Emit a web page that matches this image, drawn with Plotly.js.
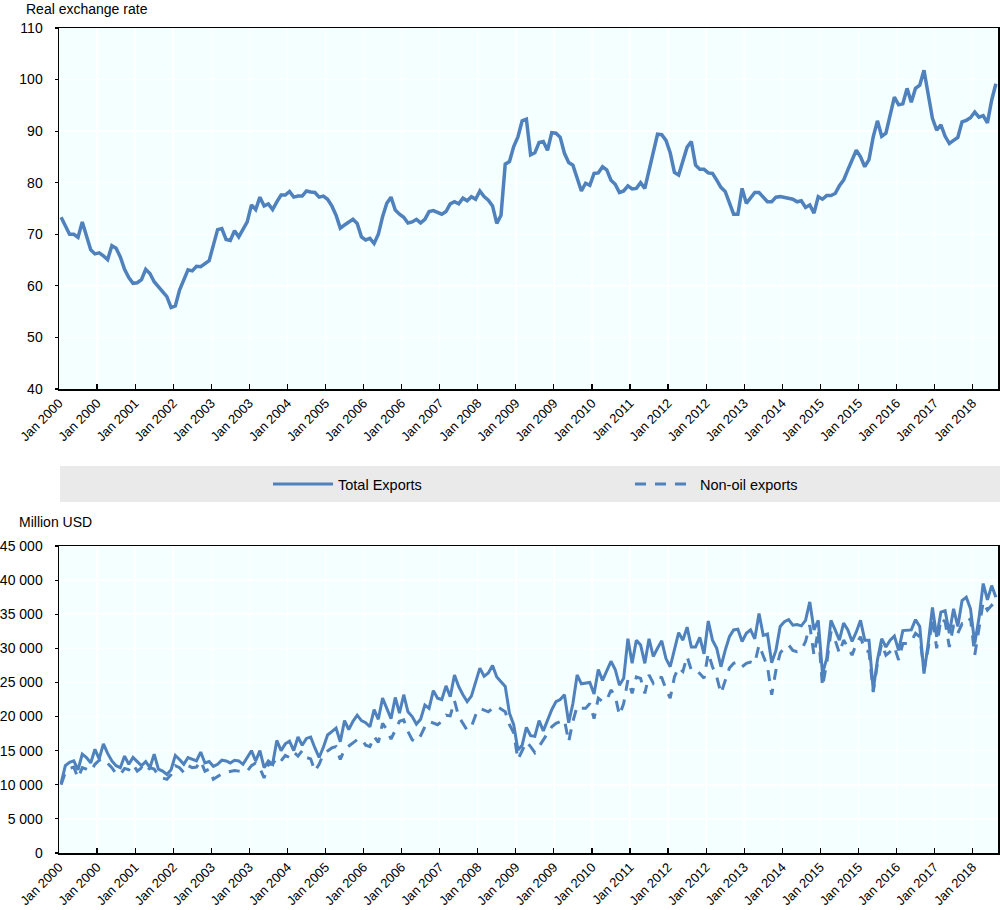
<!DOCTYPE html>
<html>
<head>
<meta charset="utf-8">
<script src="https://cdn.plot.ly/plotly-3.0.1.min.js"></script>
<style>html,body{margin:0;padding:0;background:#fff;}#chart{width:1000px;height:910px;}</style>
</head>
<body>
<div id="chart"></div>
<script>
// Tick labels as printed on both x axes (one every 9 months from Jan 2000)
const tickLabels = ["Jan 2000","Jan 2000","Jan 2001","Jan 2002","Jan 2003","Jan 2003","Jan 2004","Jan 2005","Jan 2006","Jan 2006","Jan 2007","Jan 2008","Jan 2009","Jan 2009","Jan 2010","Jan 2011","Jan 2012","Jan 2012","Jan 2013","Jan 2014","Jan 2015","Jan 2015","Jan 2016","Jan 2017","Jan 2018"];

// Real exchange rate, monthly Jan 2000 - Jun 2018
const realExchangeRate = [
73.3,71.5,70.0,70.0,69.4,72.4,69.5,67.0,66.2,66.4,65.8,65.1,
67.8,67.3,65.6,63.2,61.6,60.5,60.6,61.2,63.2,62.4,60.8,59.8,
58.9,57.9,55.8,56.1,59.2,61.2,63.1,62.9,63.8,63.7,64.4,64.9,
67.9,70.9,71.1,69.0,68.8,70.7,69.5,70.8,72.4,75.7,74.8,77.2,
75.5,75.9,74.8,76.3,77.6,77.6,78.3,77.2,77.4,77.4,78.4,78.2,
78.1,77.2,77.4,76.8,75.5,73.7,71.2,71.8,72.4,72.9,72.1,69.5,
68.9,69.2,68.2,70.0,73.4,76.0,77.2,74.7,73.9,73.3,72.2,72.4,
72.9,72.2,72.9,74.4,74.6,74.2,73.9,74.4,75.9,76.3,75.9,77.0,
76.5,77.3,76.8,78.4,77.3,76.6,75.5,72.1,73.7,83.6,84.1,87.0,
88.9,92.0,92.3,85.4,85.8,87.8,88.0,86.3,89.7,89.6,88.8,85.7,
83.9,83.4,80.8,78.4,79.9,79.5,81.8,81.9,83.1,82.5,80.5,79.7,
78.1,78.4,79.4,78.8,78.9,80.0,78.9,82.5,86.0,89.4,89.3,88.2,
85.8,82.0,81.5,84.1,86.9,88.0,83.4,82.6,82.6,81.9,81.8,80.5,
79.1,78.3,76.0,73.9,73.9,78.9,76.0,77.0,78.1,78.1,77.2,76.3,
76.3,77.2,77.3,77.1,76.9,76.8,76.3,76.5,75.2,75.7,74.1,77.3,
76.8,77.5,77.5,77.9,79.4,80.5,82.5,84.4,86.3,85.0,83.1,84.5,
88.9,92.0,89.0,89.6,93.1,96.6,95.1,95.3,98.3,95.6,98.3,98.9,
101.8,97.2,92.5,90.2,91.2,89.0,87.6,88.2,88.8,91.8,92.1,92.6,
93.7,92.7,93.0,91.6,96.0,99.2];

// Total exports, million USD
const totalExports = [
10200,12800,13300,13500,12200,14500,14000,13200,15200,13800,16000,14600,
13500,12800,12500,14200,13000,14000,13400,12800,13400,12500,14500,12300,
12000,11500,12200,14300,13700,13000,14000,13700,13500,14800,13200,13400,
12700,13000,13600,13500,13200,13600,13500,13000,14000,15000,13500,15000,
12500,13500,13000,16500,15000,16000,16400,15000,17000,15800,16800,17000,
15400,14000,15500,17300,17800,18300,16300,19400,18100,19300,20200,19400,
19100,18500,21000,19600,22700,21200,19700,22800,20500,23200,20700,20000,
18900,19600,21700,21200,23800,22700,22500,24500,22900,26100,24400,23200,
22200,23000,25100,27100,25900,26400,27500,25800,25100,24400,20500,18800,
15100,15800,18400,17200,17100,19400,17900,19500,21000,22200,22500,23200,
19100,21900,26100,24800,24900,25000,23300,26900,25300,26600,28100,26900,
24600,25600,31400,27800,31200,30500,27800,31400,28800,30000,31100,28500,
27300,29800,32300,31200,33100,30200,30200,31600,29200,34000,31200,30000,
27300,29700,31700,32700,32800,31000,32200,32700,31400,35100,31900,32100,
27900,29700,33200,33900,34200,33400,33500,33300,34100,36800,32700,34100,
26300,28500,34100,32700,31200,33700,32700,31000,32400,34100,31200,31200,
23900,28300,31400,30200,31200,31800,29700,32600,32700,32700,34200,33200,
26300,30700,36000,31700,35300,35500,32200,35800,33200,37000,37500,35800,
30700,34400,39500,37100,39200,37500];

// Non-oil exports, million USD
const nonOilExports = [
10000,11800,12400,12600,11000,12500,12300,12000,13000,13600,13800,13200,
12500,11600,11500,12400,12200,13000,12000,12500,11800,12500,12300,11400,
11000,10800,11500,12800,12500,11800,12800,12500,12600,13500,12000,12300,
10800,11200,11600,11800,12000,12100,12000,11900,12000,12800,13200,12400,
11000,13000,13000,14000,13500,14300,14000,14800,14200,15000,14000,13800,
12000,13000,14500,15000,15400,15600,13700,15200,15700,16100,16600,16700,
15800,15600,17100,16200,19000,18100,16700,18000,19300,19500,17800,16600,
16300,17200,18500,19300,19000,18800,19300,20200,20100,22300,20000,19000,
18000,18500,20200,21200,21000,20700,21200,21500,21100,20700,18800,17600,
13700,14900,16300,15600,14700,15600,16600,17600,18500,19000,19300,19500,
16300,19300,21500,21200,21200,21900,19700,22700,22200,22400,23900,23000,
20200,21900,25400,23400,25800,25600,23400,26100,24900,25800,25700,24000,
22700,25800,27200,26600,28800,26800,26800,26300,25600,29300,27300,25800,
23400,25100,27100,27800,28000,27300,27800,28000,27800,30500,28800,27300,
23200,26800,29300,30100,30500,29700,29500,29700,31000,33400,29000,32700,
24400,27800,32400,31200,29300,31200,30200,29000,30700,31700,29700,29500,
23600,27800,30700,29000,29500,30200,28300,30700,30700,31000,32200,31700,
26800,30000,34400,30000,34400,33900,30200,33400,32200,33600,33400,34400,
29000,32700,36800,35600,36300,35600];

const monthIndex = realExchangeRate.map((_, i) => i);
const tickPositions = tickLabels.map((_, k) => 9 * k - 0.5);

const blue = '#4F81BD';
const FONT = 'Liberation Sans, Arial, sans-serif';

const traces = [
  {x: monthIndex, y: realExchangeRate, type: 'scatter', mode: 'lines', xaxis: 'x', yaxis: 'y',
   line: {color: blue, width: 3.5}, name: 'Real exchange rate', showlegend: false},
  {x: monthIndex, y: totalExports, type: 'scatter', mode: 'lines', xaxis: 'x2', yaxis: 'y2',
   line: {color: blue, width: 3}, name: 'Total Exports', legend: 'legend'},
  {x: monthIndex, y: nonOilExports, type: 'scatter', mode: 'lines', xaxis: 'x2', yaxis: 'y2',
   line: {color: blue, width: 3, dash: '11px,9px'}, name: 'Non-oil exports', legend: 'legend2'}
];

const xCommon = {
  range: [-0.5, realExchangeRate.length - 0.5],
  tickmode: 'array', tickvals: tickPositions, ticktext: tickLabels,
  tickangle: -45, ticks: 'inside', ticklen: 5, tickwidth: 1.2, tickcolor: '#000',
  showline: true, linecolor: '#000', linewidth: 1.5, mirror: true,
  showgrid: true, gridcolor: '#FFFFFF', gridwidth: 1.5, zeroline: false,
  tickfont: {family: FONT, size: 13, color: '#000'}, fixedrange: true
};
const yCommon = {
  ticks: 'outside', ticklen: 3, tickwidth: 1.2, tickcolor: '#000',
  showline: true, linecolor: '#000', linewidth: 1.5, mirror: true,
  showgrid: true, gridcolor: '#FFFFFF', gridwidth: 1.5, zeroline: false,
  tickfont: {family: FONT, size: 14, color: '#000'}, ticklabelstandoff: 9, fixedrange: true
};

const W = 1000, H = 910, mL = 59, mR = 2, mT = 28, mB = 57;
const pw = W - mL - mR, ph = H - mT - mB;
const px = v => (v - mL) / pw;
const py = v => (H - mB - v) / ph;

const layout = {
  width: W, height: H,
  margin: {l: mL, r: mR, t: mT, b: mB},
  paper_bgcolor: '#FFFFFF', plot_bgcolor: '#F4FFFF',
  separators: '. ',
  font: {family: FONT, size: 14, color: '#000'},
  xaxis: Object.assign({}, xCommon, {domain: [0, 1], anchor: 'y'}),
  yaxis: Object.assign({}, yCommon, {domain: [py(389), 1], anchor: 'x', range: [40, 110], dtick: 10}),
  xaxis2: Object.assign({}, xCommon, {domain: [0, 1], anchor: 'y2'}),
  yaxis2: Object.assign({}, yCommon, {domain: [0, py(546)], anchor: 'x2', range: [0, 45000], dtick: 5000, tickformat: ',d'}),
  shapes: [
    {type: 'rect', xref: 'paper', yref: 'paper', x0: px(60), x1: px(1000), y0: py(502), y1: py(466),
     fillcolor: '#EAEAEA', line: {width: 0}, layer: 'below'}
  ],
  annotations: [
    {text: 'Real exchange rate', xref: 'paper', yref: 'paper', x: px(24), y: py(9), xanchor: 'left', yanchor: 'middle',
     showarrow: false, font: {family: FONT, size: 14, color: '#000'}},
    {text: 'Million USD', xref: 'paper', yref: 'paper', x: px(17), y: py(522), xanchor: 'left', yanchor: 'middle',
     showarrow: false, font: {family: FONT, size: 14, color: '#000'}}
  ],
  legend: {orientation: 'h', x: px(268), y: py(484), xanchor: 'left', yanchor: 'middle', bgcolor: 'rgba(0,0,0,0)',
    itemwidth: 60, font: {family: FONT, size: 14.5, color: '#000'}, itemclick: false, itemdoubleclick: false},
  legend2: {orientation: 'h', x: px(630), y: py(484), xanchor: 'left', yanchor: 'middle', bgcolor: 'rgba(0,0,0,0)',
    itemwidth: 60, font: {family: FONT, size: 14.5, color: '#000'}, itemclick: false, itemdoubleclick: false}
};

Plotly.newPlot('chart', traces, layout, {displayModeBar: false, staticPlot: true});
</script>
</body>
</html>
